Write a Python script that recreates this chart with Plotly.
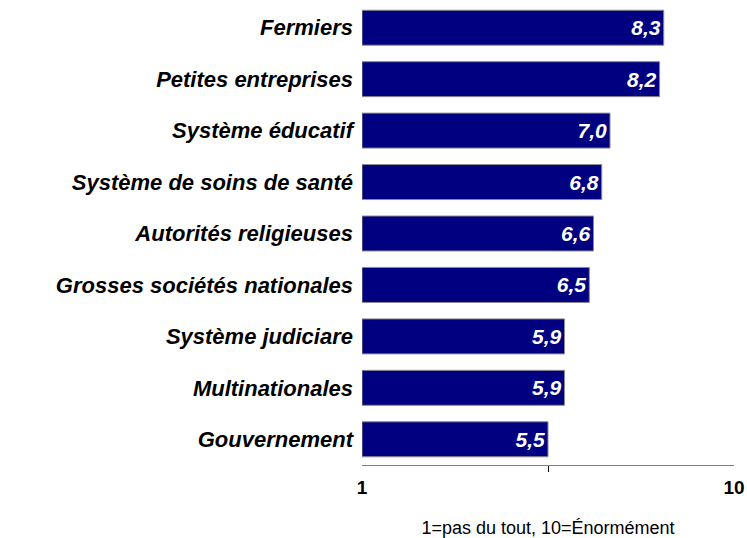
import plotly.graph_objects as go

categories = [
    "Fermiers",
    "Petites entreprises",
    "Système éducatif",
    "Système de soins de santé",
    "Autorités religieuses",
    "Grosses sociétés nationales",
    "Système judiciare",
    "Multinationales",
    "Gouvernement",
]
values = [8.3, 8.2, 7.0, 6.8, 6.6, 6.5, 5.9, 5.9, 5.5]
scale_min = 1
scale_max = 10
tick_vals = [1, 10]
tick_text = ["1", "10"]
axis_title = "1=pas du tout, 10=Énormément"

labels = [f"{v:.1f}".replace(".", ",") for v in values]

FONT = "Liberation Sans, Arial, sans-serif"

fig = go.Figure(
    go.Bar(
        y=categories,
        x=[v - scale_min for v in values],
        base=scale_min,
        orientation="h",
        width=0.68,
        marker=dict(color="#000080", line=dict(color="#8c8c8c", width=1)),
        text=labels,
        textposition="inside",
        insidetextanchor="end",
        textangle=0,
        textfont=dict(family=FONT, size=21, color="white", weight="bold", style="italic"),
        cliponaxis=False,
        hoverinfo="skip",
    )
)

fig.update_layout(
    width=747,
    height=538,
    margin=dict(l=362, r=13, t=2, b=73),
    paper_bgcolor="white",
    plot_bgcolor="white",
    showlegend=False,
    font=dict(family=FONT, color="black"),
    xaxis=dict(
        range=[scale_min, scale_max],
        tickvals=tick_vals,
        ticktext=tick_text,
        ticks="",
        ticklabelstandoff=5,
        showgrid=False,
        zeroline=False,
        showline=True,
        linecolor="#808080",
        linewidth=1,
        tickfont=dict(family=FONT, size=19, color="black", weight="bold"),
        minor=dict(tickvals=[(scale_min + scale_max) / 2], ticks="outside", ticklen=6,
                   tickcolor="black", tickwidth=1, showgrid=False),
        title=dict(text=axis_title, font=dict(family=FONT, size=18, color="black"), standoff=24),
        fixedrange=True,
    ),
    yaxis=dict(
        categoryorder="array",
        categoryarray=categories,
        autorange="reversed",
        showgrid=False,
        zeroline=False,
        showline=False,
        ticks="",
        ticklabelstandoff=8,
        tickfont=dict(family=FONT, size=22, color="black", weight="bold", style="italic"),
        fixedrange=True,
    ),
)

fig.write_html(
    "out.html",
    config={"displayModeBar": False},
    post_script="document.body.style.margin='0';document.body.style.padding='0';",
)
